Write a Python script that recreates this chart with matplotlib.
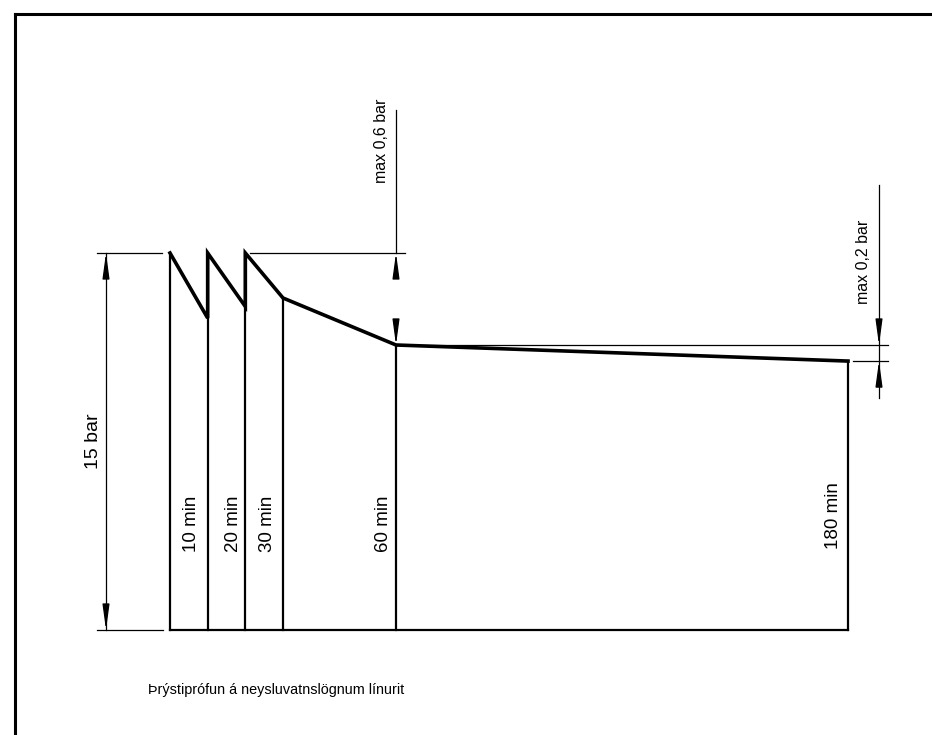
import matplotlib
matplotlib.use("Agg")
import matplotlib.pyplot as plt
from matplotlib import font_manager

# ---- data (time in minutes, pressure in bar, schematic) ----
times = [0, 10, 20, 30, 60, 180]
peak_pressure = 15.0
# pressure at end of each interval (schematic drop)
end_pressure = [15.0, 12.41, 12.87, 13.21, 11.34, 10.70]
time_labels = ["10 min", "20 min", "30 min", "60 min", "180 min"]
pressure_label = "15 bar"
drop_labels = ["max 0,6 bar", "max 0,2 bar"]
caption = "Þrýstiprófun á neysluvatnslögnum línurit"

names = {f.name for f in font_manager.fontManager.ttflist}
FONT = "Liberation Sans Narrow" if "Liberation Sans Narrow" in names else "Liberation Sans"
plt.rcParams["font.family"] = [FONT, "DejaVu Sans"]

W, H = 932, 735
fig = plt.figure(figsize=(W / 100, H / 100), dpi=100)
ax = fig.add_axes([0, 0, 1, 1])
# pixel mapping: t=0 -> x170, t=180 -> x848 ; p=0 -> y630, p=15 -> y253
sx = (848 - 170) / 180.0
sy = (630 - 253) / 15.0
ax.set_xlim(-170 / sx, (W - 170) / sx)
ax.set_ylim((630 - H) / sy, 630 / sy)
ax.axis("off")

def px(x):
    return (x - 170) / sx

def py(y):
    return (630 - y) / sy

# frame (top and left visible)
ax.plot([px(15), px(940)], [py(14), py(14)], color="black", lw=2.2, clip_on=False)
ax.plot([px(15), px(15)], [py(14), py(740)], color="black", lw=2.2, clip_on=False)

# pressure curve
cx = [times[0]]
cy = [peak_pressure]
for i in range(1, 3):
    cx += [times[i], times[i]]
    cy += [end_pressure[i], peak_pressure]
for i in range(3, len(times)):
    cx.append(times[i])
    cy.append(end_pressure[i])
ax.plot(cx, cy, color="black", lw=2.6, solid_joinstyle="miter")

# verticals and baseline
tops = [peak_pressure, peak_pressure, peak_pressure, end_pressure[3], end_pressure[4], end_pressure[5]]
for t, top in zip(times, tops):
    ax.plot([t, t], [0, top], color="black", lw=1.6)
ax.plot([times[0], times[-1]], [0, 0], color="black", lw=1.6)

thin = 0.9
arrow_kw = dict(arrowstyle="-|>,head_length=1.1,head_width=0.15", color="black",
                lw=thin, shrinkA=0, shrinkB=0, mutation_scale=14)

# left dimension (15 bar)
xl = px(106)
ax.plot([px(97), px(162)], [peak_pressure, peak_pressure], color="black", lw=thin)
ax.plot([px(97), px(163)], [0, 0], color="black", lw=thin)
ax.plot([xl, xl], [0, peak_pressure], color="black", lw=thin)
ax.annotate("", xy=(xl, peak_pressure), xytext=(xl, peak_pressure - 0.9), arrowprops=arrow_kw)
ax.annotate("", xy=(xl, 0), xytext=(xl, 0.9), arrowprops=arrow_kw)
ax.text(px(93), py(441), pressure_label, rotation=90, ha="center", va="center", fontsize=14)

# top dimension (max 0,6 bar)
ax.plot([px(250), px(405)], [peak_pressure, peak_pressure], color="black", lw=thin)
ax.plot([times[4], times[4]], [py(110), peak_pressure], color="black", lw=thin)
ax.annotate("", xy=(times[4], peak_pressure), xytext=(times[4], peak_pressure - 0.8), arrowprops=arrow_kw)
ax.annotate("", xy=(times[4], end_pressure[4]), xytext=(times[4], end_pressure[4] + 0.8), arrowprops=arrow_kw)
ax.text(px(382), py(141), drop_labels[0], rotation=90, ha="center", va="center", fontsize=11.5)

# right dimension (max 0,2 bar)
xr = px(879)
ax.plot([times[4], px(888)], [end_pressure[4], end_pressure[4]], color="black", lw=thin)
ax.plot([px(853), px(888)], [end_pressure[5], end_pressure[5]], color="black", lw=thin)
ax.plot([xr, xr], [py(185), py(398)], color="black", lw=thin)
ax.annotate("", xy=(xr, end_pressure[4]), xytext=(xr, end_pressure[4] + 0.8), arrowprops=arrow_kw)
ax.annotate("", xy=(xr, end_pressure[5]), xytext=(xr, end_pressure[5] - 0.45), arrowprops=arrow_kw)
ax.text(px(863), py(262), drop_labels[1], rotation=90, ha="center", va="center", fontsize=11.5)

# time labels
label_x = [191, 233, 268, 383, 833]
label_y = [524, 524, 524, 524, 516]
for lab, lx, ly in zip(time_labels, label_x, label_y):
    ax.text(px(lx), py(ly), lab, rotation=90, ha="center", va="center", fontsize=13.5)

# caption
ax.text(px(148), py(690), caption, ha="left", va="center", fontsize=10.4)

fig.savefig("out.png", dpi=100, facecolor="white")
